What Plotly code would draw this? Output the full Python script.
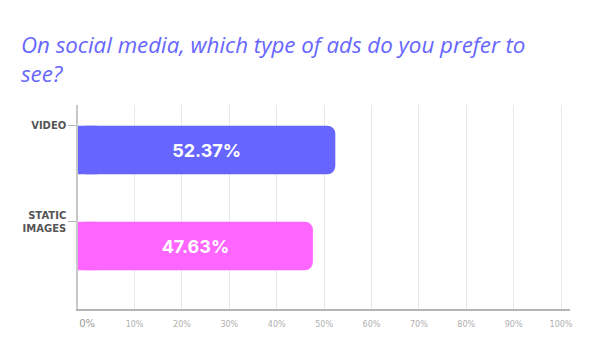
import plotly.graph_objects as go

# ---- data ----
categories = ["VIDEO", "STATIC<br>IMAGES"]
values = [52.37, 47.63]
bar_colors = ["#6666ff", "#ff66ff"]
x_ticks = [0, 10, 20, 30, 40, 50, 60, 70, 80, 90, 100]
x_ticktext = ['<span style="font-size:10px;color:#9a9a9a">0%</span>'] + [f"{t}%" for t in x_ticks[1:]]
title_text = "On social media, which type of ads do you prefer to<br>see?"

AXIS_MIN = -1.94
AXIS_MAX = 101.9
BAR_WIDTH = 0.505
SQUARE_CAP = 4.0  # data units of square-cornered cap at the left edge

ypos = list(range(len(categories)))
lengths = [v - AXIS_MIN for v in values]

fig = go.Figure()

# rounded bar with label
fig.add_trace(go.Bar(
    y=ypos, x=lengths, base=AXIS_MIN, orientation="h",
    width=BAR_WIDTH, marker=dict(color=bar_colors, line=dict(width=0), cornerradius=8),
    text=[f"{v:.2f}%" for v in values], textposition="inside",
    insidetextanchor="middle",
    textfont=dict(family="Inter", size=18, color="white", weight="bold"),
    showlegend=False,
))
# small square-cornered cap on top so the left corners stay square
fig.add_trace(go.Bar(
    y=ypos, x=[SQUARE_CAP] * len(ypos), base=AXIS_MIN, orientation="h",
    width=BAR_WIDTH, marker=dict(color=bar_colors, line=dict(width=0)),
    hoverinfo="skip", showlegend=False,
))

fig.update_layout(
    width=600, height=352,
    margin=dict(l=78, r=30, t=105, b=43),
    paper_bgcolor="white", plot_bgcolor="white",
    barmode="overlay",
    title=dict(
        text=title_text,
        font=dict(family="Open Sans", size=22.3, color="#6666ff", style="italic", weight=500),
        x=21 / 600, xanchor="left", xref="container",
        y=1 - 53 / 352, yanchor="top", yref="container",
    ),
    xaxis=dict(
        range=[AXIS_MIN, AXIS_MAX],
        tickmode="array", tickvals=x_ticks, ticktext=x_ticktext,
        tickfont=dict(family="DejaVu Sans", size=8, color="#b0b0b0"),
        showgrid=False, zeroline=False,
        minor=dict(tickmode="array", tickvals=x_ticks[1:], showgrid=True,
                   gridcolor="#e8e8e8", gridwidth=1, ticks=""),
        showline=True, linecolor="#b4b4b4", linewidth=1.5,
        ticks="", ticklabelstandoff=7,
    ),
    yaxis=dict(
        range=[1 + 63 / 96, -45 / 96],
        tickmode="array", tickvals=[p - BAR_WIDTH / 2 for p in ypos], ticktext=categories,
        tickfont=dict(family="DejaVu Sans", size=10, color="#555555", weight="bold"),
        showgrid=False, zeroline=False,
        showline=True, linecolor="#c8c8c8", linewidth=1.5,
        ticks="outside", ticklen=8, tickcolor="#b4b4b4", tickwidth=1,
    ),
)

fig.write_html("out.html")
